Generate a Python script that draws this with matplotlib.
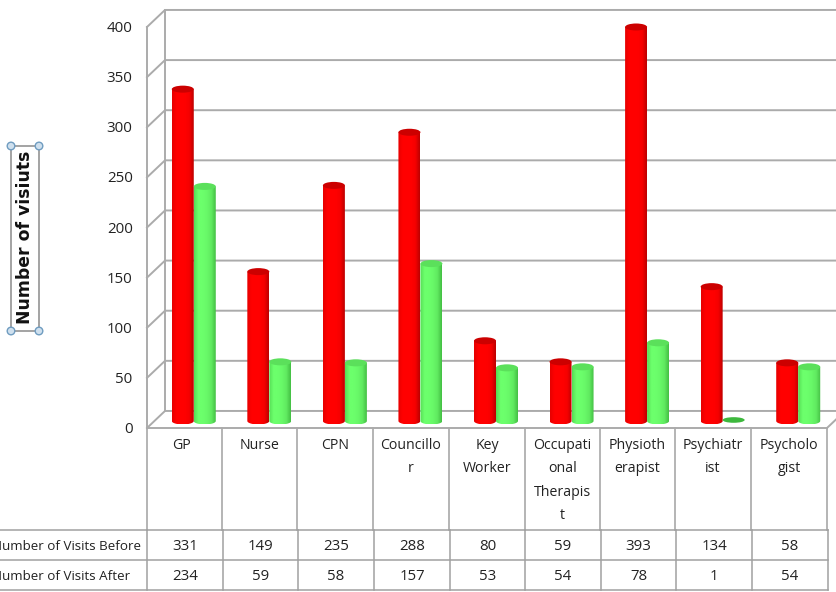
import numpy as np
import matplotlib
matplotlib.use('Agg')
import matplotlib.pyplot as plt
from matplotlib.colors import LinearSegmentedColormap
from matplotlib.patches import Ellipse, Polygon, Circle

categories = ['GP', 'Nurse', 'CPN', 'Councillo\nr', 'Key\nWorker',
              'Occupati\nonal\nTherapis\nt', 'Physioth\nerapist', 'Psychiatr\nist', 'Psycholo\ngist']
before = [331, 149, 235, 288, 80, 59, 393, 134, 58]
after = [234, 59, 58, 157, 53, 54, 78, 1, 54]
yticks = [0, 50, 100, 150, 200, 250, 300, 350, 400]
row_labels = ['Number of Visits Before', 'Number of Visits After']
y_title = 'Number of visiuts'

# linii tabela, in pixeli
header_x = [147, 222, 297, 373, 449, 525, 600, 675, 751, 827]
rows_x = [147, 223, 298, 374, 450, 525, 601, 676, 752, 828]
rows_y = [530, 560, 590]

W, H = 836, 592
GRID = '#ababab'
TABLE = '#a0a0a0'
TXT = '#222222'
plt.rcParams['font.family'] = ['Open Sans', 'DejaVu Sans']

fig = plt.figure(figsize=(W / 100, H / 100), dpi=100)

# axa principala = planul din fata al graficului
ax = fig.add_axes([147 / W, 1 - 428 / H, 680 / W, 401 / H])
ax.set_xlim(0, 9)
ax.set_ylim(0, 400)
ax.axis('off')

depth_x = 18 / (680 / 9)
depth_y = 17

# pereti si grid
for t in yticks:
    ax.plot([0, depth_x, 9.2], [t, t + depth_y, t + depth_y], color=GRID, lw=1.4,
            clip_on=False, zorder=1, solid_joinstyle='miter')
    ax.text(-0.19, t - 1.5, str(t), ha='right', va='center', fontsize=10.8, color=TXT)
ax.plot([0, 0], [0, 400], color=GRID, lw=1.4, clip_on=False, zorder=1)
ax.plot([depth_x, depth_x], [depth_y, 400 + depth_y], color=GRID, lw=1.4, clip_on=False, zorder=1)
ax.plot([9, 9 + depth_x], [0, depth_y], color=GRID, lw=1.4, clip_on=False, zorder=1)

red_map = LinearSegmentedColormap.from_list('r', ['#e60000', '#ff0000', '#ff0000', '#ff0000', '#f50000', '#bd0000'])
green_map = LinearSegmentedColormap.from_list('g', ['#55dd55', '#6cff6c', '#6cff6c', '#68f868', '#60ea60', '#44bf44'])
grad = np.linspace(0, 1, 64).reshape(1, -1)

half_w = 11 / (680 / 9)
half_h = 3.5
base = 7
centre_off = 0.619


def cylinder(xc, val, cmap, top_color, z):
    if val < 5:
        ax.add_patch(Ellipse((xc, base + val), half_w * 2, half_h * 1.6, color='#3db83d',
                             zorder=z, lw=0, clip_on=False))
        return
    th = np.linspace(np.pi, 2 * np.pi, 40)
    xs = xc + half_w * np.cos(th)
    ys = base + half_h * np.sin(th)
    pts = np.column_stack([np.r_[xs, xc + half_w, xc - half_w], np.r_[ys, base + val, base + val]])
    im = ax.imshow(grad, cmap=cmap, aspect='auto', zorder=z,
                   extent=[xc - half_w, xc + half_w, base - half_h, base + val])
    clip = Polygon(pts, transform=ax.transData, facecolor='none', edgecolor='none')
    ax.add_patch(clip)
    im.set_clip_path(clip)
    ax.add_patch(Ellipse((xc, base + val), half_w * 2, half_h * 2, color=top_color,
                         zorder=z + 0.1, lw=0, clip_on=False))


for i in range(len(categories)):
    xc = i + centre_off - half_w
    cylinder(xc, before[i], red_map, '#cc0000', 3 + i * 0.01)
    cylinder(xc + 2 * half_w, after[i], green_map, '#5be05b', 4 + i * 0.01)

ax.set_xlim(0, 9)
ax.set_ylim(0, 400)

# tabela si caseta titlului, in pixeli
ov = fig.add_axes([0, 0, 1, 1])
ov.set_xlim(0, W)
ov.set_ylim(H, 0)
ov.axis('off')
ov.patch.set_alpha(0)

for x in header_x:
    ov.plot([x, x], [428, 530], color=TABLE, lw=1.1)
for x in rows_x:
    ov.plot([x, x], [530, 590], color=TABLE, lw=1.1)
for y in rows_y:
    ov.plot([0, 828], [y, y], color=TABLE, lw=1.1)
ov.plot([147, 827], [428, 428], color=GRID, lw=1.4)

for i, name in enumerate(categories):
    cx = (header_x[i] + header_x[i + 1]) / 2 - 3 * (i < 1)
    ov.text(cx, 438, name, ha='center', va='top', fontsize=10.2, color=TXT, linespacing=1.76)
    rx = (rows_x[i] + rows_x[i + 1]) / 2
    ov.text(rx, 546, str(before[i]), ha='center', va='center', fontsize=10.8, color=TXT)
    ov.text(rx, 576, str(after[i]), ha='center', va='center', fontsize=10.8, color=TXT)

# etichetele sunt taiate la stanga, ca in original
ov.text(-8, 546, row_labels[0], ha='left', va='center', fontsize=9.65, color=TXT)
ov.text(-8, 576, row_labels[1], ha='left', va='center', fontsize=9.65, color=TXT)

ov.plot([11, 39, 39, 11, 11], [146, 146, 331, 331, 146], color='#8a8a8a', lw=1.1)
for cx, cy in [(11, 146), (39, 146), (11, 331), (39, 331)]:
    ov.add_patch(Circle((cx, cy), 3.8, facecolor='#cfe0ee', edgecolor='#6f9cc0', lw=1, zorder=5))
ov.text(25, 237, y_title, rotation=90, ha='center', va='center', fontsize=12.4,
        fontweight='bold', family='DejaVu Sans', color='#111111')

fig.savefig('out.png', dpi=100)
